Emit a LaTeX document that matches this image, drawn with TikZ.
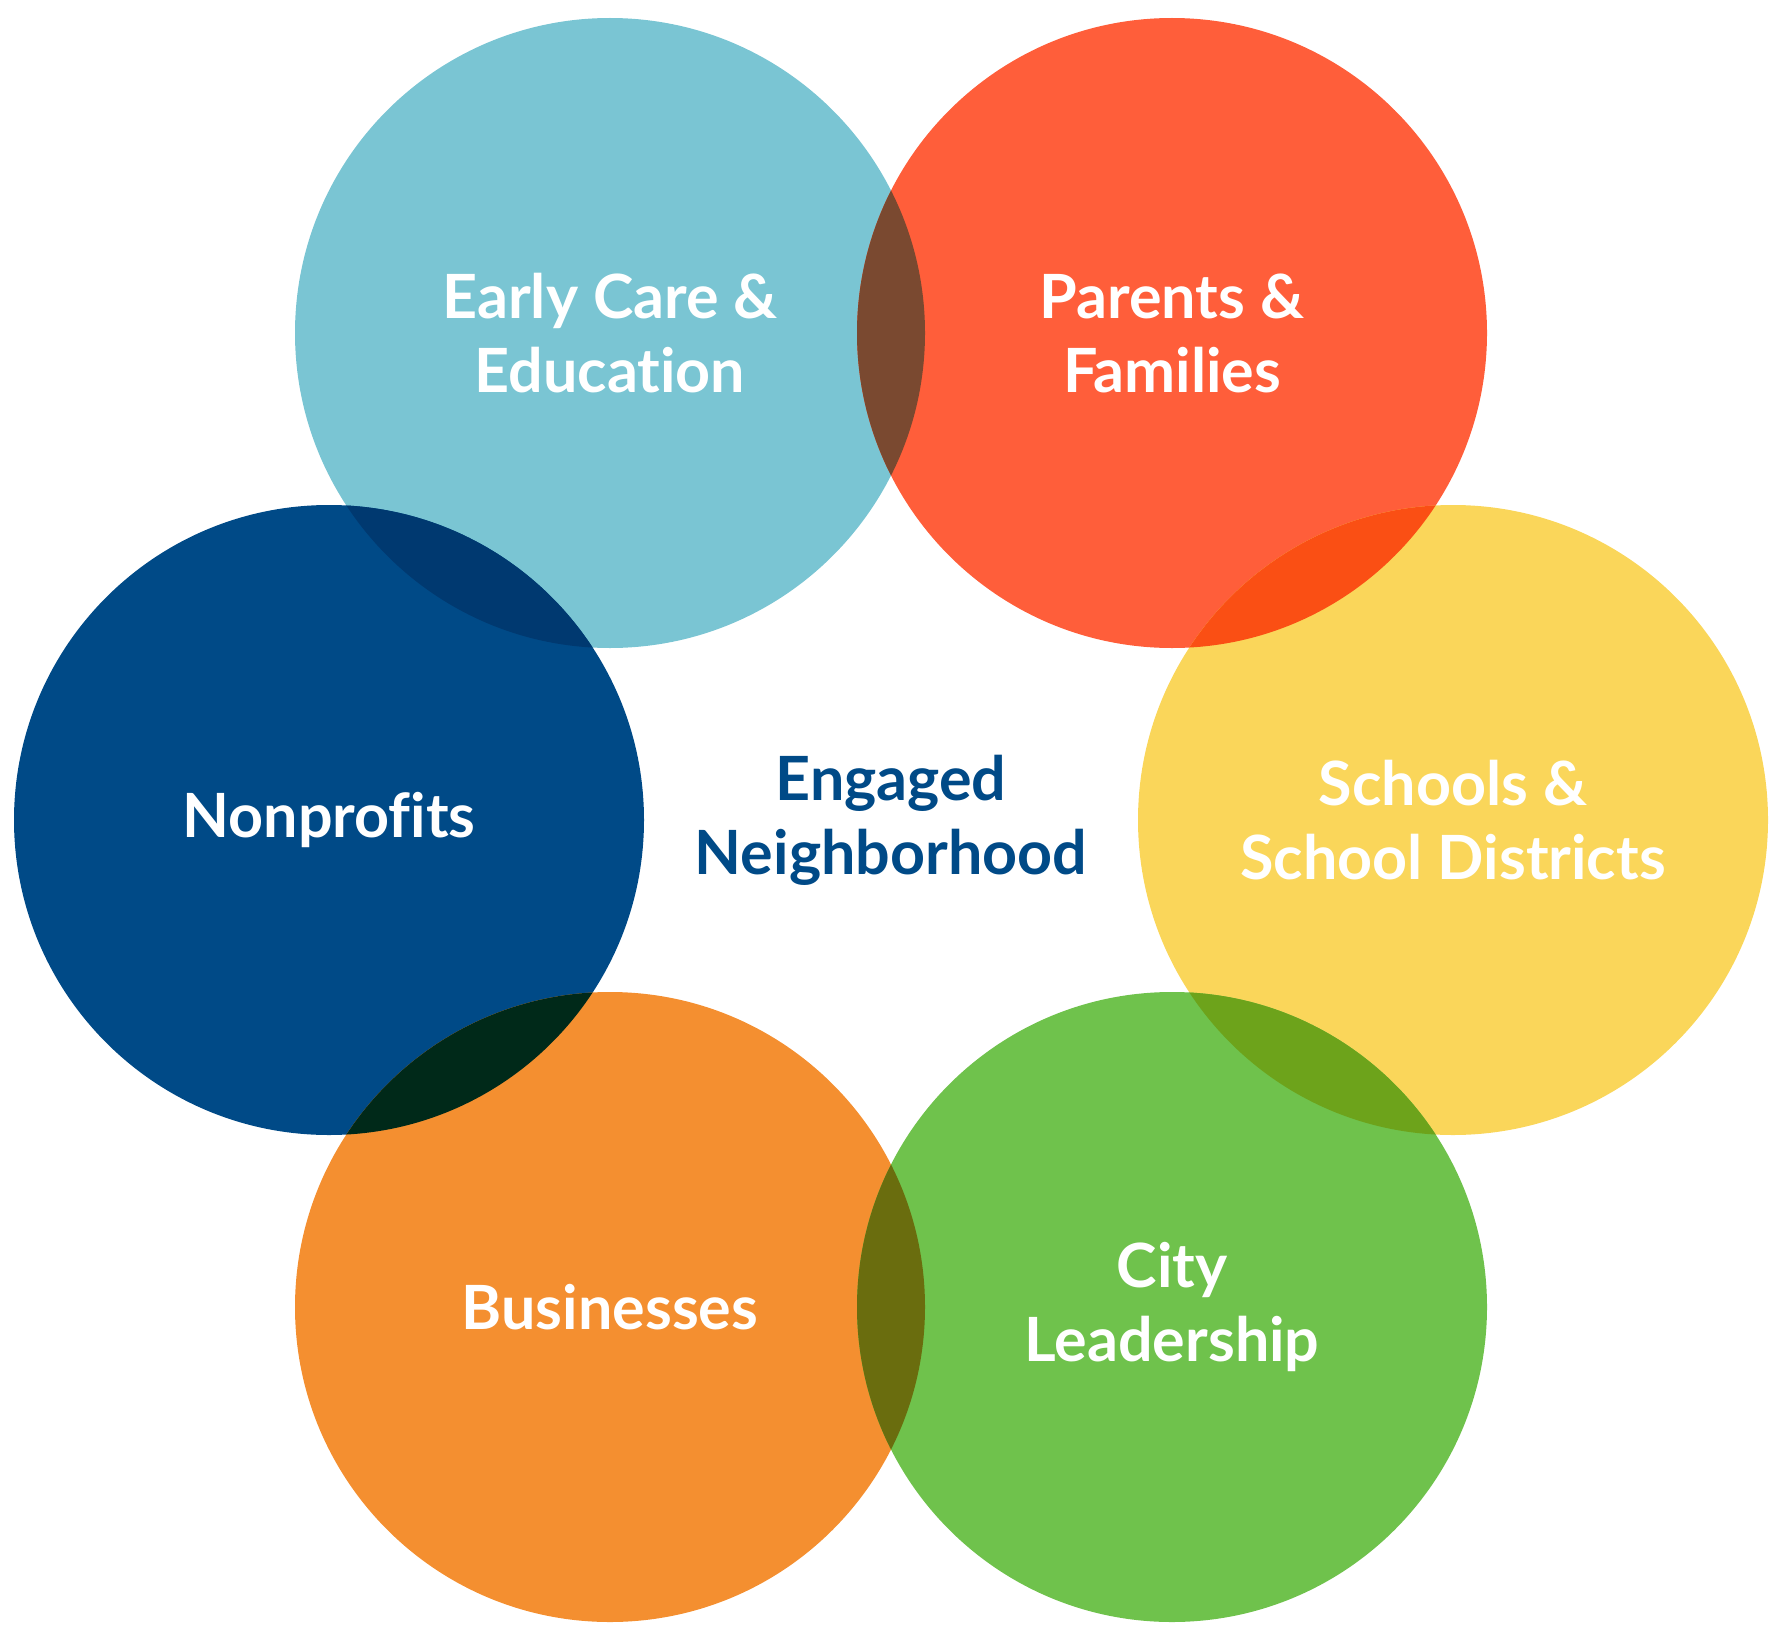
\documentclass[tikz,border=0pt]{standalone}
\usepackage{fontspec}
\setmainfont{Lato}[UprightFont=* Bold,Ligatures={NoCommon}]
\definecolor{cEC}{RGB}{122,197,211}
\definecolor{cPF}{RGB}{255,94,58}
\definecolor{cNP}{RGB}{0,74,135}
\definecolor{cSC}{RGB}{250,214,90}
\definecolor{cBU}{RGB}{244,143,48}
\definecolor{cCL}{RGB}{111,194,76}
\definecolor{oECPF}{RGB}{122,73,48}
\definecolor{oPFSC}{RGB}{250,79,20}
\definecolor{oSCCL}{RGB}{109,163,27}
\definecolor{oCLBU}{RGB}{106,109,14}
\definecolor{oBUNP}{RGB}{0,41,25}
\definecolor{oNPEC}{RGB}{0,57,112}
\begin{document}
\begin{tikzpicture}[x=1pt,y=1pt,
  lbl/.style={text=white,align=center,font=\fontsize{61}{74}\selectfont},
  ctr/.style={text=cNP,align=center,font=\fontsize{61}{74}\selectfont}]
\useasboundingbox (0,0) rectangle (1782,-1640);
\def\rr{315}
\coordinate (EC) at (610,-333);
\coordinate (PF) at (1172,-333);
\coordinate (NP) at (329,-820);
\coordinate (SC) at (1453,-820);
\coordinate (BU) at (610,-1307);
\coordinate (CL) at (1172,-1307);
\foreach \c in {EC,PF,NP,SC,BU,CL}{\fill[c\c] (\c) circle (\rr);}
\foreach \a/\b/\o in {EC/PF/ECPF,PF/SC/PFSC,SC/CL/SCCL,CL/BU/CLBU,BU/NP/BUNP,NP/EC/NPEC}{
  \begin{scope}
    \clip (\a) circle (\rr);
    \fill[o\o] (\b) circle (\rr);
  \end{scope}
}
\node[lbl] (tEC) at (EC) {Early Care \&\\Education};
\node[lbl] (tPF) at (PF) {Parents \&\\Families};
\node[lbl] (tNP) at (NP) {Nonprofits};
\node[lbl] (tSC) at (SC) {Schools \&\\School Districts};
\node[lbl] (tBU) at (BU) {Businesses};
\node[lbl] (tCL) at (CL) {City\\Leadership};
\node[ctr] (tC) at (891,-820) {Engaged\\Neighborhood};
\end{tikzpicture}
\end{document}
